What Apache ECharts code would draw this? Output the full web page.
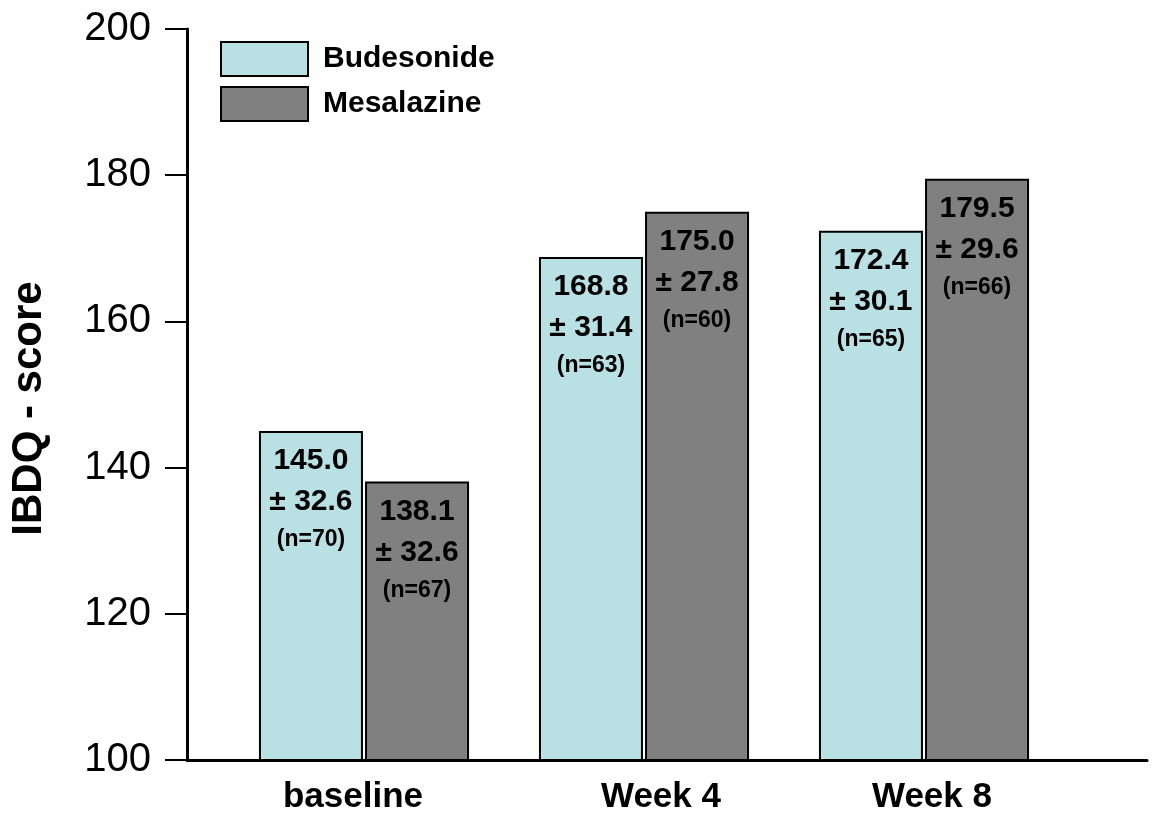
<!DOCTYPE html>
<html>
<head>
<meta charset="utf-8">
<script src="https://cdn.jsdelivr.net/npm/echarts@6/dist/echarts.min.js"></script>
<style>
html,body{margin:0;padding:0;background:#fff;}
#c{width:1152px;height:817px;}
</style>
</head>
<body>
<div id="c"></div>
<script>
var categories = ['baseline', 'Week 4', 'Week 8'];
var seriesNames = ['Budesonide', 'Mesalazine'];
var budesonideMean = [145.0, 168.8, 172.4];
var budesonideSD = ['32.6', '31.4', '30.1'];
var budesonideN = [70, 63, 65];
var mesalazineMean = [138.1, 175.0, 179.5];
var mesalazineSD = ['32.6', '27.8', '29.6'];
var mesalazineN = [67, 60, 66];
var yTicks = [100, 120, 140, 160, 180, 200];

var FONT = '"Liberation Sans", Arial, Helvetica, sans-serif';

function makeLabel(means, sds, ns) {
  return {
    show: true,
    position: 'insideTop',
    distance: 9,
    fontFamily: FONT,
    color: '#000',
    formatter: function (p) {
      var i = p.dataIndex;
      return '{v|' + means[i].toFixed(1) + '}\n{s|\u00b1 ' + sds[i] + '}\n{n|(n=' + ns[i] + ')}';
    },
    rich: {
      v: { fontSize: 30, fontWeight: 'bold', fontFamily: FONT, lineHeight: 42, color: '#000' },
      s: { fontSize: 30, fontWeight: 'bold', fontFamily: FONT, lineHeight: 40, color: '#000' },
      n: { fontSize: 23, fontWeight: 'bold', fontFamily: FONT, lineHeight: 36, color: '#000' }
    }
  };
}

var catStyle = { fontFamily: FONT, fontSize: 35, fontWeight: 'bold', color: '#000' };

var chart = echarts.init(document.getElementById('c'), null, { renderer: 'canvas' });
chart.setOption({
  backgroundColor: '#ffffff',
  animation: false,
  legend: {
    orient: 'vertical',
    left: 220,
    top: 41,
    padding: 0,
    itemWidth: 87,
    itemHeight: 34,
    itemGap: 9,
    icon: 'rect',
    data: seriesNames,
    textStyle: { fontFamily: FONT, fontSize: 30, fontWeight: 'bold', color: '#000', padding: [0, 0, 0, 10] }
  },
  grid: [
    { left: 185, right: 5, top: 29, bottom: 57, containLabel: false },
    { left: 224, right: 88, top: 29, bottom: 57, containLabel: false }
  ],
  xAxis: [
    {
      gridIndex: 0, type: 'value', min: 0, max: 1,
      axisLine: { show: true, onZero: false, lineStyle: { color: '#000', width: 3 } },
      axisTick: { show: false }, axisLabel: { show: false }, splitLine: { show: false }
    },
    {
      gridIndex: 1, type: 'category', data: categories,
      axisLine: { show: false }, axisTick: { show: false }, splitLine: { show: false },
      axisLabel: {
        interval: 0, hideOverlap: false,
        margin: 20, fontFamily: FONT, fontSize: 35, fontWeight: 'bold', color: '#000',
        formatter: function (v, i) { return '{c' + i + '|' + v + '}'; },
        rich: {
          c0: Object.assign({ padding: [0, 22, 0, 0] }, catStyle),
          c1: Object.assign({ padding: [0, 0, 0, 34] }, catStyle),
          c2: Object.assign({ padding: [0, 0, 0, 16] }, catStyle)
        }
      }
    }
  ],
  yAxis: [
    {
      gridIndex: 0, type: 'value', min: yTicks[0], max: yTicks[yTicks.length - 1], interval: 20,
      name: 'IBDQ - score', nameLocation: 'middle', nameGap: 137, nameRotate: 90,
      nameTextStyle: { fontFamily: FONT, fontSize: 42, fontWeight: 'bold', color: '#000', padding: [0, 28, 0, 0] },
      axisLine: { show: true, onZero: false, lineStyle: { color: '#000', width: 3 } },
      axisTick: { show: true, length: 22, lineStyle: { color: '#000', width: 2 } },
      axisLabel: { margin: 36, fontFamily: FONT, fontSize: 40, color: '#000' },
      splitLine: { show: false }
    },
    {
      gridIndex: 1, type: 'value', min: yTicks[0], max: yTicks[yTicks.length - 1], interval: 20,
      axisLine: { show: false }, axisTick: { show: false }, axisLabel: { show: false }, splitLine: { show: false }
    }
  ],
  series: [
    {
      name: seriesNames[0], type: 'bar', xAxisIndex: 1, yAxisIndex: 1,
      data: budesonideMean, barWidth: 104, barGap: '2%',
      itemStyle: { color: '#b9e0e3', borderColor: '#000', borderWidth: 2 },
      label: makeLabel(budesonideMean, budesonideSD, budesonideN)
    },
    {
      name: seriesNames[1], type: 'bar', xAxisIndex: 1, yAxisIndex: 1,
      data: mesalazineMean, barWidth: 104, barGap: '2%',
      itemStyle: { color: '#808080', borderColor: '#000', borderWidth: 2 },
      label: makeLabel(mesalazineMean, mesalazineSD, mesalazineN)
    }
  ]
});
</script>
</body>
</html>
